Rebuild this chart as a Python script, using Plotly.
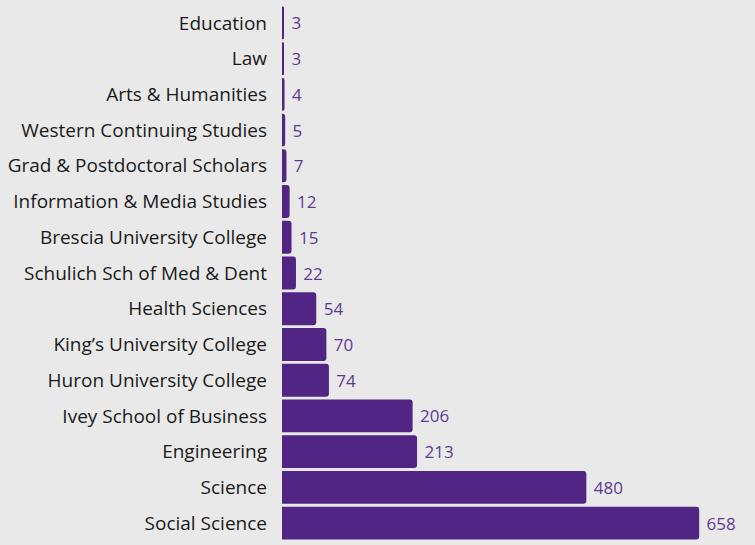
import plotly.graph_objects as go

categories = ["Education", "Law", "Arts & Humanities", "Western Continuing Studies",
              "Grad & Postdoctoral Scholars", "Information & Media Studies",
              "Brescia University College", "Schulich Sch of Med & Dent",
              "Health Sciences", "King\u2019s University College", "Huron University College",
              "Ivey School of Business", "Engineering", "Science", "Social Science"]
values = [3, 3, 4, 5, 7, 12, 15, 22, 54, 70, 74, 206, 213, 480, 658]

BG = "#e9e9e9"
BAR = "#512583"
TXT = "#5e3a98"
FONT = "Open Sans"

fig = go.Figure(go.Bar(
    x=values, y=categories, orientation="h",
    marker=dict(color=BAR, cornerradius=3, line=dict(width=0)),
    text=[" " + str(v) for v in values], textposition="outside",
    textfont=dict(color=TXT, size=17, family=FONT),
    cliponaxis=False, hoverinfo="skip",
))

fig.update_layout(
    width=755, height=545,
    margin=dict(l=282, r=0, t=5, b=4),
    paper_bgcolor=BG, plot_bgcolor=BG,
    bargap=0.08,
    showlegend=False,
    font=dict(family=FONT, color="#1a1a1a"),
    xaxis=dict(range=[0, 746], visible=False, fixedrange=True),
    yaxis=dict(categoryorder="array", categoryarray=categories, autorange="reversed",
               tickfont=dict(size=19, color="#1a1a1a", family=FONT),
               ticks="", ticklabelstandoff=14, showgrid=False, zeroline=False,
               showline=False),
)

fig.write_html("out.html")
